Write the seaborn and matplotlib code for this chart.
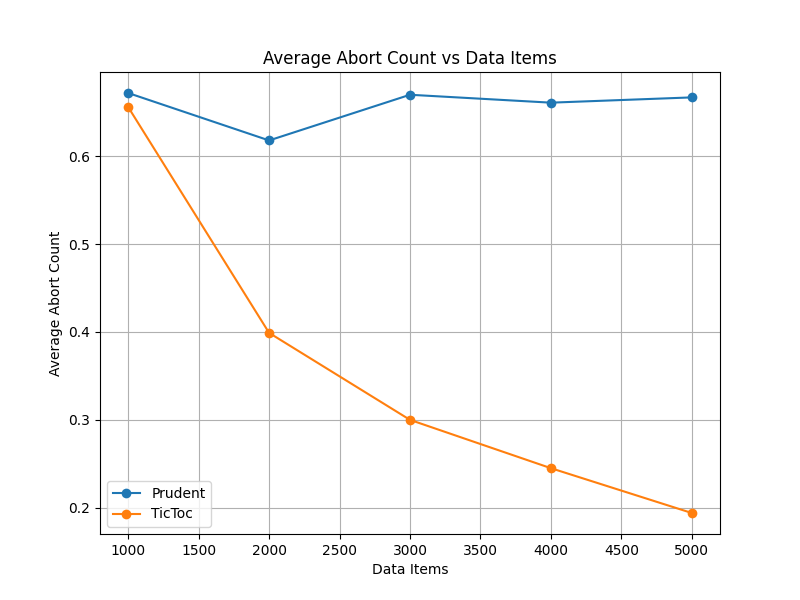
import matplotlib
matplotlib.use("Agg")
import matplotlib.pyplot as plt
import seaborn as sns
import pandas as pd

data_items = [1000, 2000, 3000, 4000, 5000]
prudent = [0.672, 0.618, 0.670, 0.661, 0.667]
tictoc = [0.656, 0.399, 0.300, 0.245, 0.194]

df = pd.DataFrame({
    "Data Items": data_items * 2,
    "Average Abort Count": prudent + tictoc,
    "Method": ["Prudent"] * 5 + ["TicToc"] * 5,
})

fig, ax = plt.subplots(figsize=(8, 6), dpi=100)
sns.lineplot(data=df, x="Data Items", y="Average Abort Count", hue="Method",
             marker="o", markersize=7, markeredgewidth=0,
             palette=["#1f77b4", "#ff7f0e"], ax=ax)
ax.set_title("Average Abort Count vs Data Items")
ax.grid(True)
ax.legend(loc="lower left", title=None)
fig.savefig("out.png", dpi=100)
